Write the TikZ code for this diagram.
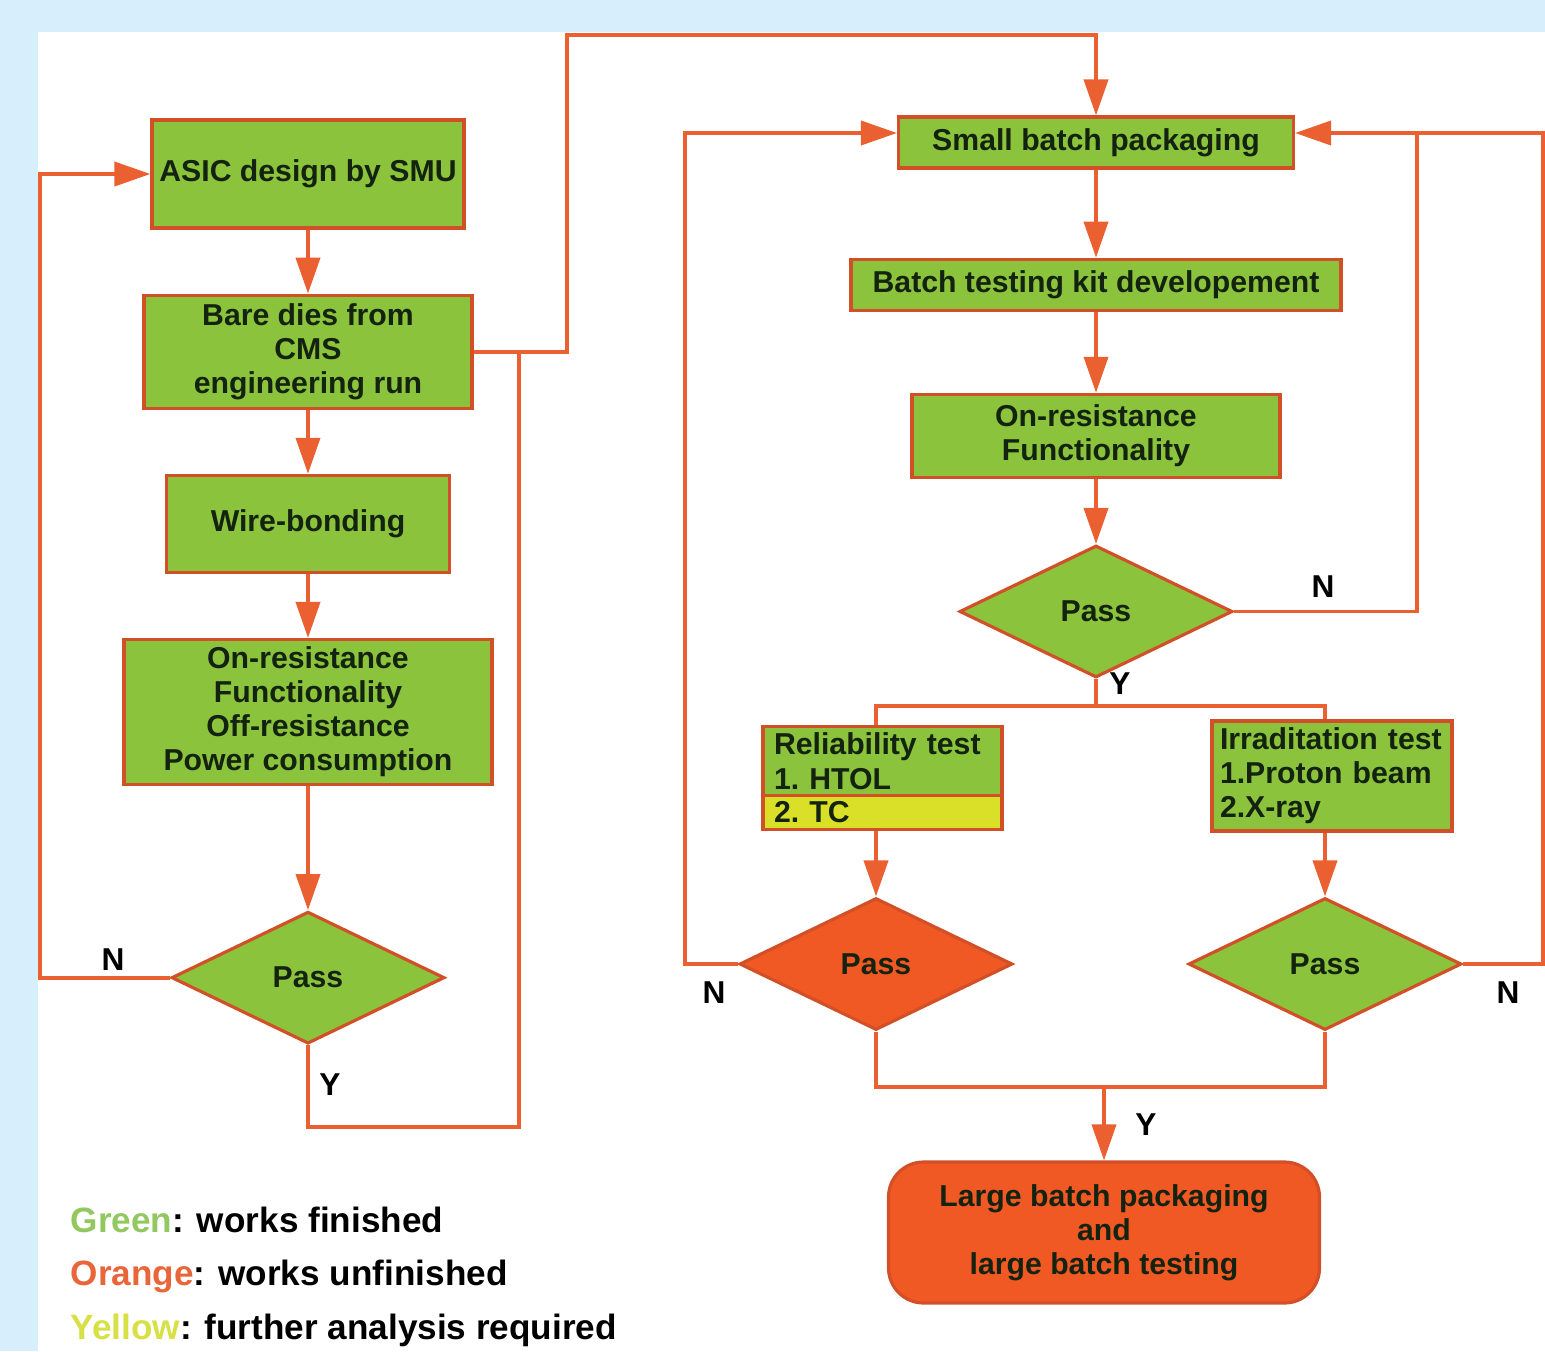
\documentclass[tikz,border=0pt]{standalone}
\usepackage{fontspec}
\setmainfont{Liberation Sans}
\usetikzlibrary{arrows.meta,backgrounds,calc,positioning,shapes.geometric,shapes.multipart}

\definecolor{bgblue}{RGB}{215,238,252}
\definecolor{gfill}{RGB}{139,195,61}
\definecolor{ofill}{RGB}{240,88,36}
\definecolor{yfill}{RGB}{218,224,40}
\definecolor{linec}{RGB}{234,96,48}
\definecolor{edgec}{RGB}{210,80,40}
\definecolor{txtc}{RGB}{20,35,15}
\definecolor{lgreen}{RGB}{146,200,96}
\definecolor{lorange}{RGB}{232,102,58}
\definecolor{lyellow}{RGB}{215,225,70}

\begin{document}
\begin{tikzpicture}[
  box/.style={rectangle, draw=edgec, line width=0.9pt, fill=gfill, text=txtc,
              font=\fontsize{8.6}{9.7}\selectfont\bfseries\frenchspacing, align=center, inner sep=1pt},
  dec/.style={diamond, draw=edgec, line width=0.9pt, fill=gfill, text=txtc,
              font=\fontsize{8.6}{9.7}\selectfont\bfseries, minimum width=2.73cm,
              minimum height=1.32cm, aspect=2.07, inner sep=0pt},
  arr/.style={line width=1.1pt, draw=linec, -{Triangle[length=3.6mm,width=2.4mm]}},
  lin/.style={line width=1.1pt, draw=linec},
  yn/.style={font=\fontsize{9}{9}\selectfont\bfseries, text=black},
  key/.style={anchor=west, font=\fontsize{10}{12}\selectfont\bfseries, inner sep=0pt},
]

\useasboundingbox (0,0) rectangle (15.45,-13.51);
\fill[bgblue] (0,0) rectangle (15.45,-13.51);
\fill[white] (0.38,-0.32) rectangle (15.45,-13.51);

% left column
\node[box, minimum width=3.12cm, minimum height=1.08cm] (asic) at (3.08,-1.74) {ASIC design by SMU};
\node[box, minimum width=3.28cm, minimum height=1.13cm, below=0.64cm of asic] (bare) {Bare dies from\\CMS\\engineering run};
\node[box, minimum width=2.83cm, minimum height=0.97cm, below=0.64cm of bare] (wire) {Wire-bonding};
\node[box, minimum width=3.68cm, minimum height=1.45cm, below=0.64cm of wire] (onres) {On-resistance\\Functionality\\Off-resistance\\Power consumption};
\node[dec, below=1.24cm of onres] (passA) {Pass};

% right column
\node[box, minimum width=3.95cm, minimum height=0.51cm] (small) at (10.96,-1.425) {Small batch packaging};
\node[box, minimum width=4.90cm, minimum height=0.51cm, below=0.88cm of small] (kit) {Batch testing kit developement};
\node[box, minimum width=3.68cm, minimum height=0.83cm, below=0.81cm of kit] (ron) {On-resistance\\Functionality};
\node[dec, below=0.65cm of ron] (passB) {Pass};

\node[box, fill=none, rectangle split, rectangle split parts=2, rectangle split part fill={gfill,yfill},
      align=left, text width=2.17cm, inner xsep=0.11cm, inner ysep=1.3pt] (rel) at (8.825,-7.78)
      {Reliability test\\1. HTOL\nodepart{two}2. TC};
\node[box, align=left, text width=2.24cm, inner xsep=0.08cm, minimum height=1.10cm] (irr) at (13.32,-7.76)
      {Irraditation test\\1.Proton beam\\2.X-ray};

\node[dec, fill=ofill] (passC) at (8.76,-9.64) {Pass};
\node[dec] (passD) at (13.25,-9.64) {Pass};

\node[box, fill=ofill, rounded corners=0.35cm, minimum width=4.31cm, minimum height=1.41cm] (large) at (11.04,-12.325)
      {Large batch packaging\\and\\large batch testing};

% turning points
\coordinate (lft) at (0.40,0);
\coordinate (ylow) at (5.19,-11.27);
\coordinate (yjoin) at (5.19,-3.51);
\coordinate (topturn) at (5.67,-0.35);
\coordinate (nB) at (14.17,-1.33);
\coordinate (nC) at (6.85,-1.33);
\coordinate (nD) at (15.43,-1.33);
\path (passB.south) ++(0,-0.27) coordinate (split);
\coordinate (merge) at (11.04,-10.87);

% left flow
\draw[arr] (asic) -- (bare);
\draw[arr] (bare) -- (wire);
\draw[arr] (wire) -- (onres);
\draw[arr] (onres) -- (passA);
\draw[arr] (passA.west) -- (passA.west -| lft) |- (asic.west);
\draw[lin] (passA.south) |- (ylow) -- (yjoin);
\draw[arr] (bare.east) -| (topturn) -| (small.north);

% right flow
\draw[arr] (small) -- (kit);
\draw[arr] (kit) -- (ron);
\draw[arr] (ron) -- (passB);
\draw[lin] (passB.east) -| (nB);
\draw[lin] (passB.south) -- (split);
\draw[lin] (passC.north |- rel.north) |- (split) -| (passD.north |- irr.north);
\draw[arr] (passC.north |- rel.south) -- (passC);
\draw[arr] (passD.north |- irr.south) -- (passD);
\draw[arr] (passC.west) -| (nC) -- (small.west |- nC);
\draw[arr] (passD.east) -| (nD) -- (small.east |- nD);
\draw[lin] (passC.south) |- (merge) -| (passD.south);
\draw[arr] (merge) -- (large);

% Y / N marks
\node[yn] (nA) at (1.13,-9.60) {N};
\node[yn] (yA) at (3.30,-10.85) {Y};
\node[yn] (nBl) at (13.23,-5.87) {N};
\node[yn] (yB) at (11.20,-6.84) {Y};
\node[yn] (nCl) at (7.14,-9.93) {N};
\node[yn] (nDl) at (15.08,-9.93) {N};
\node[yn] (yE) at (11.46,-11.25) {Y};

% legend
\node[key] (kgreen) at (0.70,-12.20) {\textcolor{lgreen}{Green}: works finished};
\node[key] (korange) at (0.70,-12.76) {\textcolor{lorange}{Orange}: works unfinished};
\node[key] (kyellow) at (0.70,-13.30) {\textcolor{lyellow}{Yellow}: further analysis required};

\end{tikzpicture}
\end{document}
